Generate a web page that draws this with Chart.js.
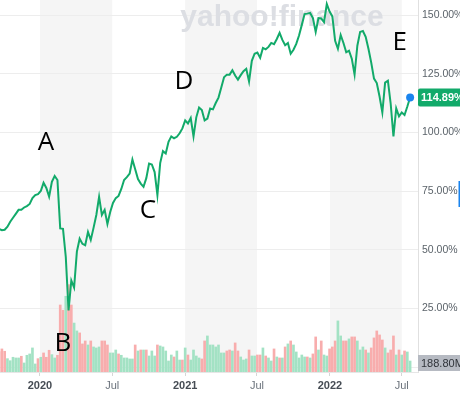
<!DOCTYPE html>
<html><head><meta charset="utf-8">
<script src="https://cdn.jsdelivr.net/npm/chart.js@4.4.1/dist/chart.umd.min.js"></script>
<style>html,body{margin:0;padding:0;background:#fff;overflow:hidden}#wrap{position:relative;width:460px;height:396px}</style>
</head><body><div id="wrap"><canvas id="c" width="460" height="396"></canvas></div>
<script>
// ---- data (weekly, first week ending 2019-09-20) ----
const firstWeek = '2019-09-20';
const priceChange = [
58.9,58.3,58.5,59.8,61.9,63.6,65.3,67.0,67.0,68.0,68.6,69.5,72.0,73.3,73.7,
75.0,78.5,76.3,72.6,78.9,81.4,79.7,59.1,58.9,47.0,24.1,36.9,33.9,49.2,54.7,
52.5,51.9,57.6,54.2,59.3,64.8,72.5,64.8,67.0,61.0,66.1,69.9,72.0,72.9,75.9,
79.7,80.9,82.4,88.4,84.3,80.1,78.2,76.8,80.5,86.7,86.3,83.1,73.3,86.9,92.0,
91.0,96.0,98.3,97.5,98.1,99.6,101.7,105.1,103.8,106.1,98.3,106.4,110.6,109.5,105.1,
105.9,110.2,109.8,112.5,114.8,119.1,123.5,124.6,124.6,126.5,124.2,122.5,124.4,126.1,127.1,
121.7,130.5,133.5,134.0,131.8,136.0,135.4,136.4,138.1,137.6,139.8,142.4,139.4,137.1,138.1,
133.5,135.2,137.7,141.3,145.8,150.4,150.6,150.9,148.7,142.8,148.7,148.5,147.0,154.7,151.5,
149.4,139.0,135.6,141.5,138.1,134.1,134.8,131.4,124.6,136.9,142.8,143.2,140.7,135.6,129.7,
122.9,121.0,115.3,108.5,121.2,122.0,112.3,98.3,110.2,106.8,108.5,107.4,111.0,114.89
];
const volumeM = [
350,396,356,229,194,253,241,241,270,155,287,310,413,138,229,
253,327,253,373,298,241,287,1150,1060,1300,1500,1150,840,705,671,
482,533,464,533,430,413,430,533,533,464,327,327,378,310,287,
241,241,224,224,464,361,378,378,378,275,361,275,464,447,430,
361,189,292,258,361,206,206,413,292,206,378,275,241,224,533,
619,464,464,430,464,327,327,361,378,361,499,361,258,206,224,
378,275,275,292,292,413,275,241,189,396,258,241,241,430,482,
533,464,344,241,292,258,258,241,310,602,378,533,292,275,396,
430,533,877,619,533,533,568,602,602,533,378,430,378,327,413,
585,705,636,550,413,327,378,619,292,378,292,361,344,188.8
];
const volumeDir = [
'd','d','d','u','u','u','u','u','d','u','u','u','u','u','d',
'u','d','d','d','u','u','d','d','d','u','d','d','u','u','d',
'd','d','u','d','u','u','u','d','d','d','u','u','u','d','u',
'u','u','u','u','d','u','d','u','d','u','u','u','d','u','u',
'u','u','u','d','u','u','d','u','d','u','u','u','u','d','d',
'u','u','u','u','u','u','u','d','d','u','d','d','u','u','u',
'd','u','u','d','d','u','d','u','u','d','u','d','u','d','u',
'd','u','u','u','u','u','d','u','d','d','u','d','u','u','d',
'd','d','u','u','d','d','u','d','d','u','u','u','d','u','d',
'd','d','d','d','u','d','d','d','u','d','u','d','u','u'
];
const tickDates = ['2020-01-01','2020-07-01','2021-01-01','2021-07-01','2022-01-01','2022-07-01'];
const tickLabels = ['2020','Jul','2021','Jul','2022','Jul'];
const shadedPeriods = [['2020-01-01','2020-07-01'],['2021-01-01','2021-07-01'],['2022-01-01','2022-07-01']];
const yTicks = [0,25,50,75,100,125,150];
const notes = [
  {text:'A', date:'2020-01-16', value:95.5},
  {text:'B', date:'2020-02-28', value:9.8},
  {text:'C', date:'2020-09-29', value:66.5},
  {text:'D', date:'2020-12-29', value:121.5},
  {text:'E', date:'2022-06-26', value:138.1}
];
const watermark = 'yahoo!finance';

// ---- helpers ----
const EPOCH = Date.UTC(2020,0,1);
function dayOf(s){const p=s.split('-').map(Number);return (Date.UTC(p[0],p[1]-1,p[2])-EPOCH)/864e5;}
const firstDay = dayOf(firstWeek);
const weekDays = priceChange.map((_,i)=>firstDay+7*i);
const pricePts = priceChange.map((v,i)=>({x:weekDays[i],y:v}));
const volPts = volumeM.map((v,i)=>({x:weekDays[i],y:v}));
const tickDays = tickDates.map(dayOf);
const lastIdx = priceChange.length-1;

const GREEN='#12aa6a', BLUE='#1a84ee';
const FONT="'Liberation Sans', Arial, sans-serif";

const decor = {
  id:'decor',
  beforeDraw(chart){
    const {ctx,chartArea:a,scales:{x}}=chart;
    ctx.save();
    ctx.fillStyle='#f5f5f5';
    shadedPeriods.forEach(([s,e])=>{
      const x1=x.getPixelForValue(dayOf(s)), x2=x.getPixelForValue(dayOf(e));
      ctx.fillRect(x1,a.top,x2-x1,a.bottom-a.top);
    });
    ctx.restore();
  },
  beforeDatasetsDraw(chart){
    const {ctx}=chart;
    ctx.save();
    ctx.font="bold 30px "+FONT;
    ctx.fillStyle='#dcdee3';
    ctx.textAlign='center';ctx.textBaseline='alphabetic';
    ctx.fillText(watermark,282,26);
    ctx.restore();
  },
  afterDraw(chart){
    const {ctx,chartArea:a,scales:{x,y,yv}}=chart;
    ctx.save();
    const vy=yv.getPixelForValue(volumeM[lastIdx])+2;
    ctx.fillStyle='#b6bac2';
    ctx.fillRect(a.right,vy-8,chart.width-a.right,16);
    ctx.fillStyle='#30343a';ctx.font="11px "+FONT;ctx.textBaseline='middle';ctx.textAlign='left';
    ctx.fillText(volumeM[lastIdx].toFixed(2)+'M',a.right+3,vy+0.5);
    const py=y.getPixelForValue(priceChange[lastIdx]);
    ctx.fillStyle=GREEN;
    ctx.beginPath();
    ctx.roundRect ? ctx.roundRect(a.right,py-9,chart.width-a.right+4,18,2) : ctx.rect(a.right,py-9,chart.width-a.right,18);
    ctx.fill();
    ctx.fillStyle='#fff';ctx.font="bold 11px "+FONT;
    ctx.fillText(priceChange[lastIdx].toFixed(2)+'%',a.right+3,py+0.5);
    ctx.fillStyle=BLUE;ctx.fillRect(chart.width-1.5,181,2,26);
    ctx.fillStyle='#000';ctx.font="26px 'Open Sans', sans-serif";ctx.textAlign='center';ctx.textBaseline='middle';
    notes.forEach(n=>ctx.fillText(n.text,x.getPixelForValue(dayOf(n.date)),y.getPixelForValue(n.value)));
    ctx.restore();
  }
};

function noPad(s){s.paddingTop=0;s.paddingBottom=0;s.paddingLeft=0;s.paddingRight=0;}

new Chart(document.getElementById('c'),{
  data:{datasets:[
    {type:'line',data:pricePts,yAxisID:'y',borderColor:GREEN,borderWidth:2,tension:0,
     pointRadius:c=>c.dataIndex===lastIdx?4:0,pointBackgroundColor:BLUE,pointBorderWidth:0,order:0},
    {type:'bar',data:volPts,yAxisID:'yv',barThickness:2,order:1,
     backgroundColor:volumeDir.map(d=>d==='u'?'#a3e2c4':'#f8adad')}
  ]},
  options:{
    responsive:false,animation:false,devicePixelRatio:1,
    layout:{padding:0,autoPadding:false},
    plugins:{legend:{display:false},tooltip:{enabled:false}},
    scales:{
      x:{type:'linear',position:'bottom',min:-100.8,max:952.9,offset:false,
        afterBuildTicks:s=>{s.ticks=tickDays.map(v=>({value:v}));},
        afterFit:s=>{s.height=24;noPad(s);},
        ticks:{autoSkip:false,maxRotation:0,padding:3,
          callback:(v,i)=>tickLabels[i],
          color:c=>/^\d{4}$/.test(tickLabels[c.index])?'#464c54':'#6b737c',
          font:c=>({family:FONT,size:11,weight:/^\d{4}$/.test(tickLabels[c.index])?'bold':'normal'})},
        grid:{drawOnChartArea:false,tickLength:4,color:'#d6d6d6',offset:false},
        border:{display:true,color:'#e6e6e6'}},
      y:{position:'right',min:-2.1,max:156.4,
        afterBuildTicks:s=>{s.ticks=yTicks.map(v=>({value:v}));},
        afterFit:s=>{s.width=42;noPad(s);},
        ticks:{padding:4,color:'#5b636a',font:{family:FONT,size:10.5},callback:v=>v.toFixed(2)+'%'},
        grid:{color:'#ededed',drawTicks:false},
        border:{display:true,color:'#e0e0e0'}},
      yv:{display:false,min:0,max:6385}
    }
  },
  plugins:[decor]
});
</script></body></html>
